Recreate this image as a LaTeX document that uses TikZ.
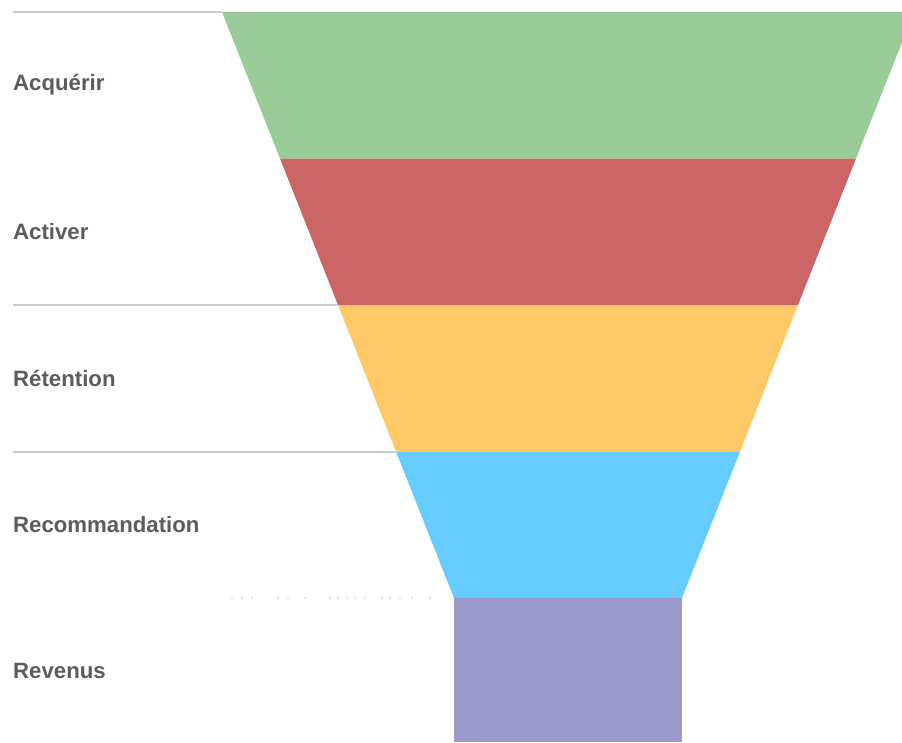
\documentclass[tikz,border=0pt]{standalone}
\usepackage{fontspec}
\setmainfont{Liberation Sans}
\definecolor{acqgreen}{HTML}{99CB99}
\definecolor{actred}{HTML}{CB6464}
\definecolor{retyellow}{HTML}{FEC966}
\definecolor{recblue}{HTML}{66CBFE}
\definecolor{revpurple}{HTML}{9999CB}
\definecolor{labgray}{HTML}{5C5C5C}
\definecolor{guidegray}{HTML}{CCCCCC}
\tikzset{
  stagelabel/.style={anchor=west,inner sep=0pt,text=labgray,
    font=\fontsize{22.2}{26}\selectfont\bfseries},
  guide/.style={draw=guidegray,line width=1.3pt}
}
\begin{document}
\begin{tikzpicture}[x=1pt,y=-1pt]
  \fill[white] (0,0) rectangle (902,742);
  \useasboundingbox (0,0) rectangle (902,742);
  \clip (0,0) rectangle (902,742);
  % funnel bands
  \foreach \i/\col/\lab in {0/acqgreen/Acquérir,1/actred/Activer,
    2/retyellow/Rétention,3/recblue/Recommandation} {
    \fill[color=\col] ({222+\i*58},{12+\i*146.5}) -- ({914-\i*58},{12+\i*146.5}) --
      ({856-\i*58},{158.5+\i*146.5}) -- ({280+\i*58},{158.5+\i*146.5}) -- cycle;
    \node[stagelabel] (stage\i) at (13,{85+\i*146.5}) {\lab};
  }
  \fill[color=revpurple] (454,598) rectangle (682,742);
  \node[stagelabel] (stage4) at (13,671) {Revenus};
  % guide lines
  \draw[guide] (13,12) -- (222,12);
  \draw[guide] (13,305) -- (338,305);
  \draw[guide] (13,452) -- (396,452);
  \foreach \x in {232,242,252,278,288,305,330,338,347,355,365,382,390,400,412,430}
    \fill[guidegray] (\x,598) circle (0.9);
\end{tikzpicture}
\end{document}
